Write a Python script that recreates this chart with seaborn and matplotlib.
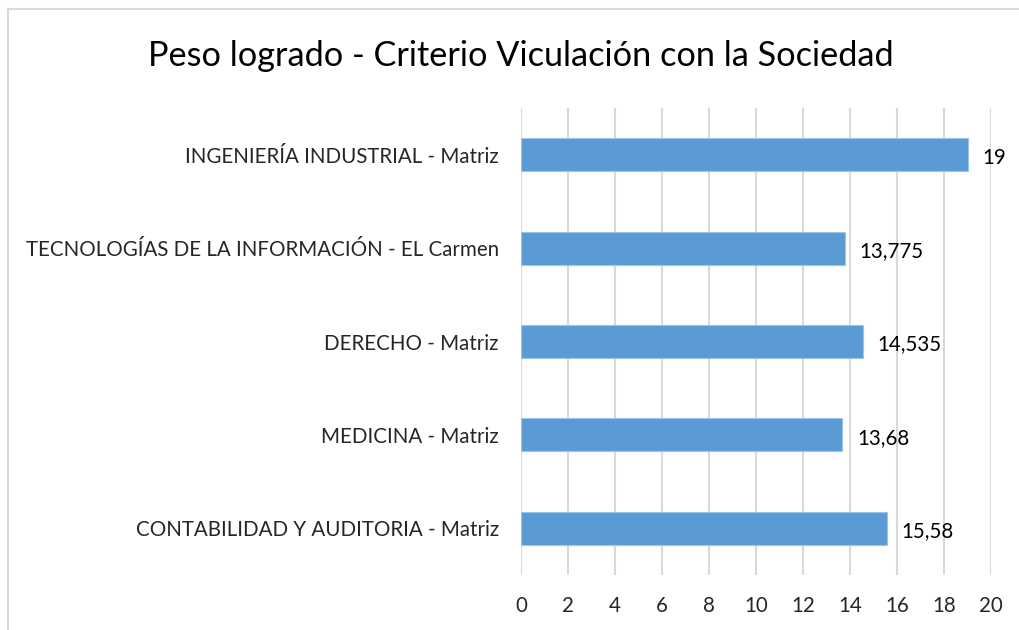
import matplotlib
matplotlib.use("Agg")
import matplotlib.pyplot as plt
import seaborn as sns
import pandas as pd
from matplotlib.lines import Line2D

# data (top to bottom)
carreras = [
    "INGENIERÍA INDUSTRIAL - Matriz",
    "TECNOLOGÍAS DE LA INFORMACIÓN - EL Carmen",
    "DERECHO - Matriz",
    "MEDICINA - Matriz",
    "CONTABILIDAD Y AUDITORIA - Matriz",
]
pesos = [19, 13.775, 14.535, 13.68, 15.58]
ticks_x = [0, 2, 4, 6, 8, 10, 12, 14, 16, 18, 20]

sns.set_theme(style="white")
plt.rcParams["font.family"] = ["Lato", "DejaVu Sans"]

df = pd.DataFrame({"carrera": carreras, "peso": pesos})

fig = plt.figure(figsize=(10.19, 6.30), dpi=100)
ax = fig.add_axes([521 / 1019, 1 - 575 / 630, 470 / 1019, 467 / 630])

sns.barplot(data=df, x="peso", y="carrera", orient="h", color="#5B9BD5",
            saturation=1, width=0.355, edgecolor="#9DC3E6", linewidth=0.8,
            ax=ax, zorder=3)

ax.set_xlim(0, 20)
ax.set_ylim(4.5, -0.5)
ax.set_xticks(ticks_x)
ax.set_xticklabels([str(t) for t in ticks_x], fontsize=14.8)
ax.tick_params(axis="y", labelsize=14.8, length=0, pad=16)
ax.tick_params(axis="x", length=0, pad=15)
ax.set_xlabel("")
ax.set_ylabel("")
ax.grid(axis="x", color="#D9D9D9", linewidth=1.5, zorder=0)
for s in ax.spines.values():
    s.set_visible(False)

for i, v in enumerate(pesos):
    txt = ("%g" % v).replace(".", ",")
    ax.text(v + 0.62, i + 0.03, txt, va="center", ha="left", fontsize=14.8, color="black")

fig.text(521 / 1019, 1 - 56 / 630, "Peso logrado - Criterio Viculación con la Sociedad",
         ha="center", va="center", fontsize=24.7, color="black")

# chart border (only left and top edges visible in the crop)
fig.add_artist(Line2D([8 / 1019, 8 / 1019], [0, 1 - 9 / 630], transform=fig.transFigure,
                      color="#D9D9D9", linewidth=1.5))
fig.add_artist(Line2D([8 / 1019, 1], [1 - 9 / 630, 1 - 9 / 630], transform=fig.transFigure,
                      color="#D9D9D9", linewidth=1.5))

fig.savefig("out.png", dpi=100)
